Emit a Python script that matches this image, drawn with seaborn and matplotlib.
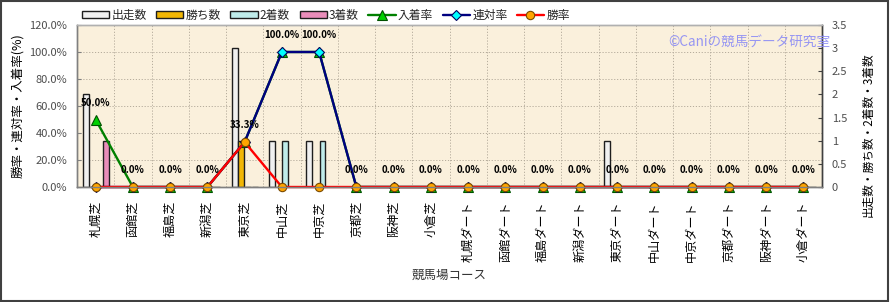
import numpy as np
import pandas as pd
import matplotlib
matplotlib.use("Agg")
import matplotlib.pyplot as plt
import seaborn as sns
from matplotlib.ticker import FixedLocator, FuncFormatter, MultipleLocator
from matplotlib.patches import Rectangle

# ---------------- data ----------------
courses = ["札幌芝", "函館芝", "福島芝", "新潟芝", "東京芝", "中山芝", "中京芝", "京都芝", "阪神芝", "小倉芝",
           "札幌ダート", "函館ダート", "福島ダート", "新潟ダート", "東京ダート", "中山ダート", "中京ダート",
           "京都ダート", "阪神ダート", "小倉ダート"]
starts  = [2, 0, 0, 0, 3, 1, 1, 0, 0, 0, 0, 0, 0, 0, 1, 0, 0, 0, 0, 0]
wins    = [0, 0, 0, 0, 1, 0, 0, 0, 0, 0, 0, 0, 0, 0, 0, 0, 0, 0, 0, 0]
seconds = [0, 0, 0, 0, 0, 1, 1, 0, 0, 0, 0, 0, 0, 0, 0, 0, 0, 0, 0, 0]
thirds  = [1, 0, 0, 0, 0, 0, 0, 0, 0, 0, 0, 0, 0, 0, 0, 0, 0, 0, 0, 0]
place_rate  = [50.0, 0, 0, 0, 33.3, 100.0, 100.0, 0, 0, 0, 0, 0, 0, 0, 0, 0, 0, 0, 0, 0]
rentai_rate = [0, 0, 0, 0, 33.3, 100.0, 100.0, 0, 0, 0, 0, 0, 0, 0, 0, 0, 0, 0, 0, 0]
win_rate    = [0, 0, 0, 0, 33.3, 0, 0, 0, 0, 0, 0, 0, 0, 0, 0, 0, 0, 0, 0, 0]
bar_series = ["出走数", "勝ち数", "2着数", "3着数"]

# ---------------- style ----------------
sns.set_style("white")
plt.rcParams["font.family"] = ["Noto Sans CJK JP", "DejaVu Sans"]

df = pd.DataFrame({
    "course": courses * 4,
    "series": np.repeat(bar_series, len(courses)),
    "count": starts + wins + seconds + thirds,
})

fig = plt.figure(figsize=(8.9, 3.02), dpi=100)
axb = fig.add_axes([77 / 890, 1 - 187 / 302, (822 - 77) / 890, (187 - 25) / 302])
axl = axb.twinx()

palette = {"出走数": "#F0F0F0", "勝ち数": "#F2B705", "2着数": "#BFECEA", "3着数": "#E98DBA"}
sns.barplot(data=df, x="course", y="count", hue="series", palette=palette, saturation=1,
            width=0.72, gap=0.12, edgecolor="#1E1E1E", linewidth=1.0, ax=axb, errorbar=None)

bar_leg = axb.get_legend()
bar_handles = list(bar_leg.legend_handles)
bar_labels = [t.get_text() for t in bar_leg.get_texts()]
for h in bar_handles:
    h.set_edgecolor("#1E1E1E")
    h.set_linewidth(1.0)
bar_leg.remove()

line_specs = [
    (place_rate, "入着率", "#008000", "^", "#00D000", "#005000", 7),
    (rentai_rate, "連対率", "#000080", "D", "#00FFFF", "#000060", 5.5),
    (win_rate, "勝率", "#FF0000", "o", "#FFA500", "#7A4A00", 6),
]
for vals, lab, col, mk, mfc, mec, ms in line_specs:
    sns.pointplot(x=courses, y=vals, ax=axl, color=col, marker=mk, markersize=ms,
                  markerfacecolor=mfc, markeredgecolor=mec, markeredgewidth=0.8,
                  linewidth=1.7, errorbar=None, label=lab, clip_on=False)
if axl.get_legend() is not None:
    axl.get_legend().remove()
line_handles, line_labels = axl.get_legend_handles_labels()

# data labels for 入着率
for i, v in enumerate(place_rate):
    axl.annotate(f"{v:.1f}%", (i, v), xytext=(0, 12), textcoords="offset points",
                 ha="center", va="center", fontsize=7, fontweight="bold", color="#000000")

# ---------------- axes ----------------
axb.set_facecolor("#FAF0DC")
axb.set_ylim(0, 3.5)
axl.set_ylim(0, 120)
axb.set_xlim(-0.5, len(courses) - 0.5)

axb.yaxis.tick_right()
axb.yaxis.set_label_position("right")
axl.yaxis.tick_left()
axl.yaxis.set_label_position("left")

axb.yaxis.set_major_locator(MultipleLocator(0.5))
axb.yaxis.set_major_formatter(FuncFormatter(lambda v, p: f"{v:g}"))
axl.yaxis.set_major_locator(MultipleLocator(20))
axl.yaxis.set_major_formatter(FuncFormatter(lambda v, p: f"{v:.1f}%"))

# grid (on the bottom axes, behind bars)
axb.yaxis.set_minor_locator(FixedLocator(np.arange(1, 6) * 3.5 / 6))
axb.xaxis.set_minor_locator(FixedLocator(np.arange(0.5, len(courses) - 0.5, 1)))
axb.grid(False, which="major")
axb.grid(True, which="minor", color="#B5AC9C", linestyle=(0, (1.2, 1.8)), linewidth=0.7)
axb.set_axisbelow(True)
axb.tick_params(which="minor", length=0)

axb.tick_params(axis="y", which="major", direction="in", length=3, pad=7,
                labelsize=8, labelcolor="#4D4D4D", color="#404040")
axl.tick_params(axis="y", which="major", direction="in", length=3, pad=7,
                labelsize=8, labelcolor="#4D4D4D", color="#808080")
axb.set_xticks(range(len(courses)))
axb.set_xticklabels(courses)
axb.tick_params(axis="x", which="major", length=0, pad=10, labelsize=8.7,
                labelrotation=90, labelcolor="#000000")

for ax in (axb, axl):
    ax.spines["left"].set_color("#808080")
    ax.spines["bottom"].set_color("#808080")
    ax.spines["top"].set_color("#B0B0B0")
    ax.spines["right"].set_color("#404040")
    for s in ax.spines.values():
        s.set_linewidth(1.0)

axb.set_xlabel("競馬場コース", fontsize=9, color="#333333")
axb.xaxis.set_label_coords(0.5, -(269 - 187) / 162)
axb.set_ylabel("出走数・勝ち数・2着数・3着数", fontsize=8.4, color="#000000")
axb.yaxis.set_label_coords((861 - 77) / 745, 0.32)
axl.set_ylabel("勝率・連対率・入着率(%)", fontsize=9, color="#000000")
axl.yaxis.set_label_coords((24 - 77) / 745, 0.5)

# legend
fig.legend(bar_handles + line_handles, bar_labels + line_labels, ncol=7,
           loc="center left", bbox_to_anchor=(82 / 890, 1 - 15 / 302), frameon=False,
           fontsize=8.5, handlelength=2.3, handleheight=0.5, handletextpad=0.2,
           columnspacing=0.8, borderpad=0, borderaxespad=0)

# watermark
fig.text(668 / 890, 1 - 42 / 302, "©Caniの競馬データ研究室", color="#8C8CF5",
         fontsize=9.8, ha="left", va="center", alpha=0.9)

# figure border
fig.patches.append(Rectangle((0.001, 0.002), 0.997, 0.995, transform=fig.transFigure,
                             fill=False, edgecolor="#404040", linewidth=1.5))

fig.savefig("out.png", dpi=100)
